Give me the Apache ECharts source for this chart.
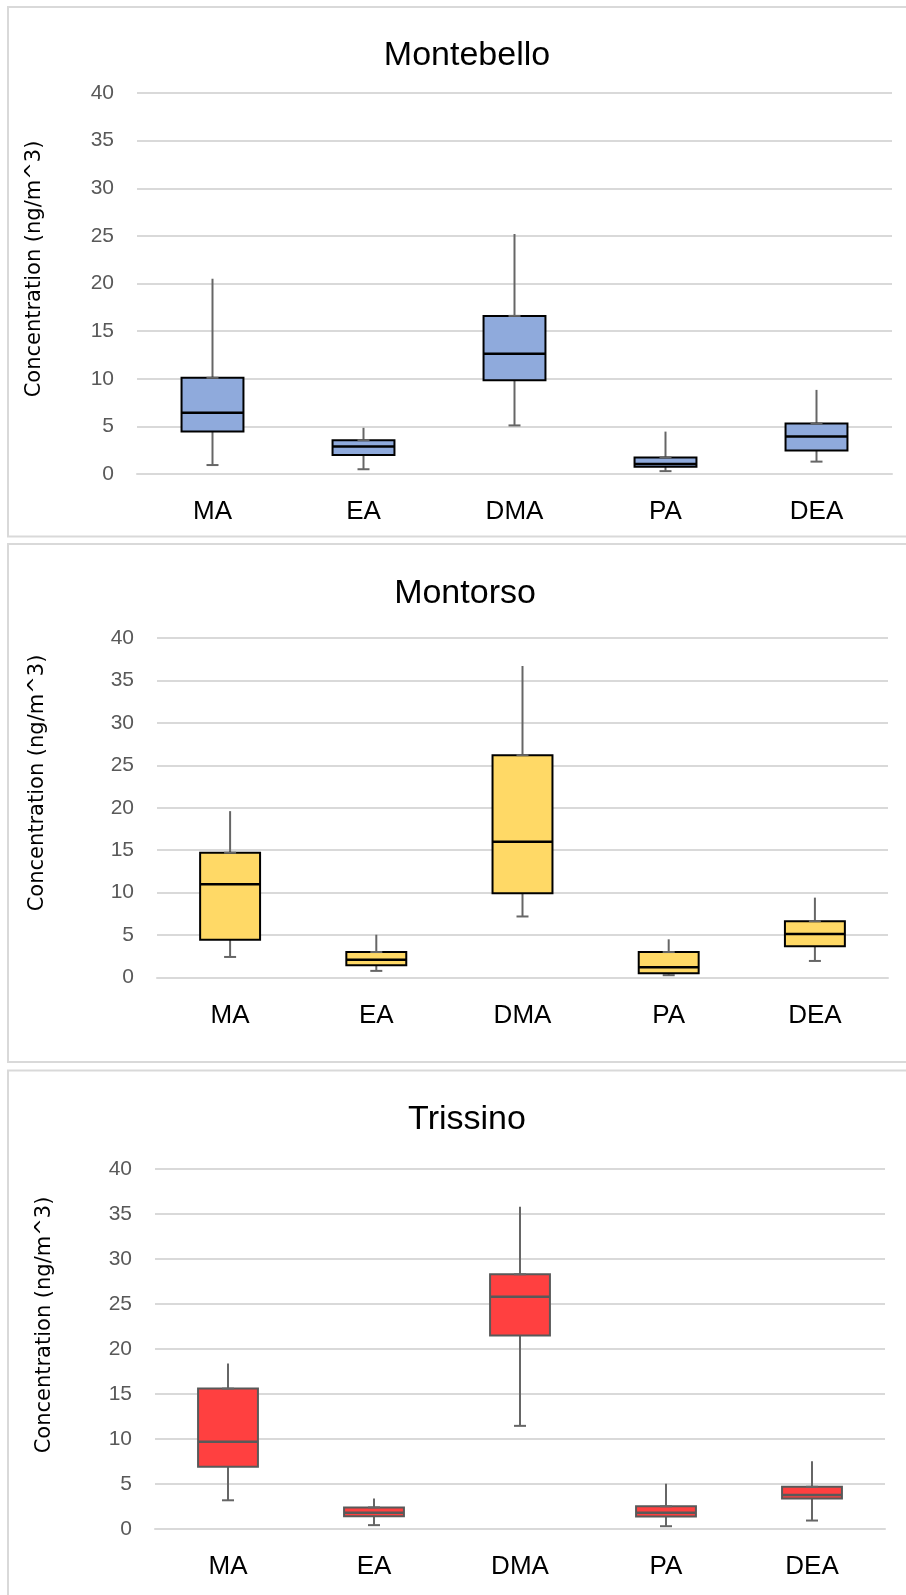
<!DOCTYPE html>
<html>
<head>
<meta charset="utf-8">
<script src="https://cdn.jsdelivr.net/npm/echarts@6/dist/echarts.min.js"></script>
<style>html,body{margin:0;padding:0;background:#fff;}#c{width:906px;height:1595px;}</style>
</head>
<body>
<div id="c"></div>
<script>
// ---- data ----
const categories = ['MA', 'EA', 'DMA', 'PA', 'DEA'];
const yTicks = [0, 5, 10, 15, 20, 25, 30, 35, 40];
// [min, Q1, median, Q3, max]
const montebello = [[0.94, 4.45, 6.44, 10.1, 20.5], [0.5, 2.0, 2.9, 3.55, 4.85], [5.1, 9.85, 12.63, 16.6, 25.2], [0.3, 0.76, 1.05, 1.74, 4.45], [1.3, 2.46, 3.95, 5.3, 8.83]];
const montorso = [[2.42, 4.45, 11.0, 14.7, 19.6], [0.78, 1.45, 2.1, 3.0, 5.04], [7.19, 9.92, 16.0, 26.2, 36.7], [0.27, 0.5, 1.2, 3.0, 4.5], [1.95, 3.67, 5.12, 6.64, 9.41]];
const trissino = [[3.19, 6.93, 9.69, 15.6, 18.4], [0.43, 1.42, 1.81, 2.4, 3.39], [11.46, 21.5, 25.8, 28.3, 35.8], [0.31, 1.38, 1.81, 2.52, 5.04], [0.94, 3.39, 3.78, 4.69, 7.52]];
const titles = ['Montebello', 'Montorso', 'Trissino'];
const yName = 'Concentration (ng/m^3)';

// ---- layout ----
const panels = [
  {data: montebello, fill: '#8FAADC', border: '#000000', grid: {left: 137, right: 14, top: 93, height: 381}, title: [462, 51], name: [35, 269], frame: [8, 7, 536.5]},
  {data: montorso, fill: '#FFD966', border: '#000000', grid: {left: 157, right: 18, top: 638, height: 339.5}, title: [460, 589], name: [37.5, 783], frame: [8, 544, 1062]},
  {data: trissino, fill: '#FF4040', border: '#595959', grid: {left: 155, right: 21, top: 1169, height: 360}, title: [462, 1115], name: [45, 1325], frame: [8, 1070.5, 1610]}
];

const FONT = '"Liberation Sans", Arial, sans-serif';
const chart = echarts.init(document.getElementById('c'), null, {renderer: 'canvas'});

function makeRender(fill, border) {
  return function (params, api) {
    const i = api.value(0);
    const vmin = api.value(1), q1 = api.value(2), med = api.value(3), q3 = api.value(4), vmax = api.value(5);
    const band = api.size([1, 0])[0];
    const w = band * 0.41;
    const cap = 12;
    const pMin = api.coord([i, vmin]);
    const pQ1 = api.coord([i, q1]);
    const pMed = api.coord([i, med]);
    const pQ3 = api.coord([i, q3]);
    const pMax = api.coord([i, vmax]);
    const cx = pMin[0];
    const wStyle = {stroke: '#666666', lineWidth: 2};
    return {
      type: 'group',
      children: [
        {type: 'line', shape: {x1: cx, y1: pMax[1], x2: cx, y2: pQ3[1]}, style: wStyle},
        {type: 'line', shape: {x1: cx, y1: pQ1[1], x2: cx, y2: pMin[1]}, style: wStyle},
        {type: 'line', shape: {x1: cx - cap / 2, y1: pMin[1], x2: cx + cap / 2, y2: pMin[1]}, style: wStyle},
        {type: 'rect', shape: {x: cx - w / 2, y: pQ3[1], width: w, height: pQ1[1] - pQ3[1]}, style: {fill: fill, stroke: border, lineWidth: 2}},
        {type: 'line', shape: {x1: cx - w / 2, y1: pMed[1], x2: cx + w / 2, y2: pMed[1]}, style: {stroke: border, lineWidth: 2.5}},
        {type: 'line', shape: {x1: cx - cap / 2, y1: pQ3[1], x2: cx + cap / 2, y2: pQ3[1]}, style: {stroke: '#666666', lineWidth: 2}}
      ]
    };
  };
}

const option = {
  backgroundColor: '#ffffff',
  animation: false,
  title: panels.map((p, k) => ({
    text: titles[k], left: p.title[0], top: p.title[1], textAlign: 'center', textVerticalAlign: 'middle',
    textStyle: {fontFamily: FONT, fontSize: 34, fontWeight: 'normal', color: '#000000'}
  })),
  grid: panels.map(p => Object.assign({}, p.grid)),
  xAxis: panels.map((p, k) => ({
    type: 'category', gridIndex: k, data: categories,
    axisLine: {show: true, lineStyle: {color: '#D9D9D9', width: 2}},
    axisTick: {show: false},
    axisLabel: {fontFamily: FONT, fontSize: 26, color: '#000000', margin: 25},
    splitLine: {show: false}
  })),
  yAxis: panels.map((p, k) => ({
    type: 'value', gridIndex: k, min: yTicks[0], max: yTicks[yTicks.length - 1], interval: 5,
    axisLine: {show: false}, axisTick: {show: false},
    axisLabel: {fontFamily: FONT, fontSize: 21, color: '#595959', margin: 23},
    splitLine: {lineStyle: {color: '#D9D9D9', width: 2}}
  })),
  series: panels.map((p, k) => ({
    type: 'custom', xAxisIndex: k, yAxisIndex: k,
    renderItem: makeRender(p.fill, p.border),
    encode: {x: 0, y: [1, 2, 3, 4, 5]},
    data: p.data.map((d, i) => [i].concat(d))
  })),
  graphic: [].concat(
    panels.map(p => ({
      type: 'rect', silent: true, z: -10,
      shape: {x: p.frame[0], y: p.frame[1], width: 920, height: p.frame[2] - p.frame[1]},
      style: {fill: 'none', stroke: '#D9D9D9', lineWidth: 2}
    })),
    panels.map(p => ({
      type: 'text', x: p.name[0], y: p.name[1], rotation: Math.PI / 2,
      style: {text: yName, fontFamily: '"DejaVu Sans", sans-serif', fontSize: 21, fill: '#000000', align: 'center', verticalAlign: 'middle'}
    }))
  )
};
chart.setOption(option);
</script>
</body>
</html>
